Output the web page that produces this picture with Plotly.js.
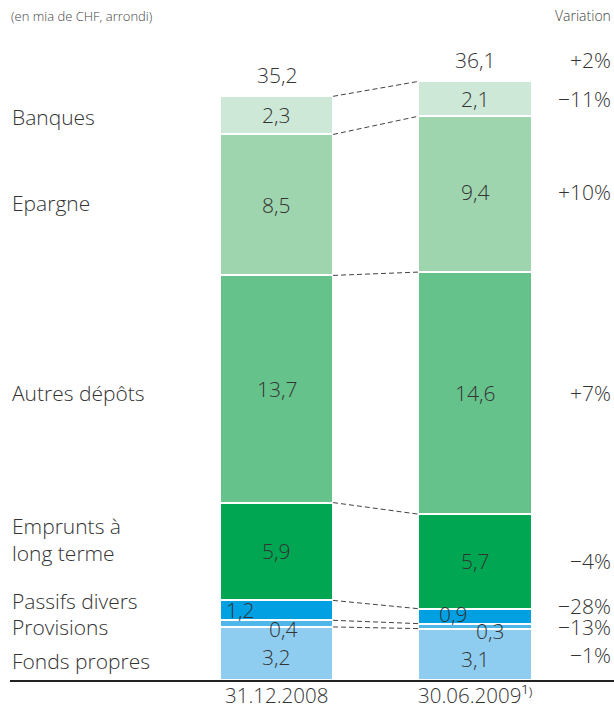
<!DOCTYPE html>
<html>
<head>
<meta charset="utf-8">
<script src="https://cdn.plot.ly/plotly-3.0.1.min.js"></script>
<style>html,body{margin:0;padding:0;background:#fff;}#chart{width:614px;height:709px;}</style>
</head>
<body>
<div id="chart"></div>
<script>
// ---- data ----
var periods = ["31.12.2008", "30.06.2009¹⁾"];
var segments = ["Fonds propres", "Provisions", "Passifs divers", "Emprunts à<br>long terme", "Autres dépôts", "Epargne", "Banques"];
var values2008 = [3.2, 0.4, 1.2, 5.9, 13.7, 8.5, 2.3];
var values2009 = [3.1, 0.3, 0.9, 5.7, 14.6, 9.4, 2.1];
var totals = [35.2, 36.1];
var variations = ["−1%", "−13%", "−28%", "−4%", "+7%", "+10%", "−11%"];
var totalVariation = "+2%";

// ---- styles ----
var colors = ["#8fcdf0", "#4fb6ea", "#00a0e3", "#00a651", "#66c28b", "#9ed5ae", "#cde8d6"];
var txt = "#333333";
var FONT = "Open Sans, Lato, sans-serif";
var FS = 21;
var barW = 0.57;
// label offsets (pixels) for crowded small segments
var leftShift = [-8, -3, 9, 12, -4, 2, -2];
var valShift1 = [{x:0,y:-4},{x:7,y:-5},{x:-36,y:0},{x:0,y:0},{x:0,y:0},{x:0,y:0},{x:0,y:0}];
var valShift2 = [{x:0,y:-5},{x:15,y:-5},{x:-22,y:2},{x:0,y:0},{x:0,y:0},{x:0,y:2},{x:0,y:0}];
var varShift = [-1, -1, 10, 0, 0, 2, 0];

function fmt(v){ return v.toFixed(1).replace('.', ','); }

var xs = [0, 1];
var traces = [];
segments.forEach(function(name, i){
  traces.push({
    type: 'bar', x: xs, y: [values2008[i], values2009[i]], width: barW,
    marker: {color: colors[i], line: {color: '#ffffff', width: 2}},
    hoverinfo: 'skip', showlegend: false
  });
});

// cumulative tops
var cum1 = [], cum2 = [], s1 = 0, s2 = 0;
for (var i = 0; i < segments.length; i++) {
  s1 += values2008[i]; s2 += values2009[i];
  cum1.push(s1); cum2.push(s2);
}
// dashed connectors between bar edges
for (var i = 0; i < segments.length; i++) {
  traces.push({
    type: 'scatter', mode: 'lines',
    x: [0 + barW/2, 1 - barW/2], y: [cum1[i], cum2[i]],
    line: {color: '#444444', width: 1, dash: '5px,3px'},
    hoverinfo: 'skip', showlegend: false
  });
}

var F = {family: FONT, size: FS, color: txt, weight: 300};
var ann = [];
for (var i = 0; i < segments.length; i++) {
  var m1 = cum1[i] - values2008[i]/2, m2 = cum2[i] - values2009[i]/2;
  ann.push({xref:'paper', x:0, xanchor:'left', yref:'y', y:m1, yshift:leftShift[i],
    text: segments[i], showarrow:false, align:'left', font:F});
  ann.push({xref:'x', x:0, yref:'y', y:m1, xshift:valShift1[i].x, yshift:valShift1[i].y,
    text: fmt(values2008[i]), showarrow:false, font:F});
  ann.push({xref:'x', x:1, yref:'y', y:m2, xshift:valShift2[i].x, yshift:valShift2[i].y,
    text: fmt(values2009[i]), showarrow:false, font:F});
  ann.push({xref:'paper', x:1, xanchor:'right', xshift:-1, yref:'y', y:m2, yshift:varShift[i],
    text: variations[i], showarrow:false, font:F});
}
// totals
ann.push({xref:'x', x:0, yref:'y', y:totals[0], yanchor:'bottom', yshift:5, text: fmt(totals[0]), showarrow:false, font:F});
ann.push({xref:'x', x:1, yref:'y', y:totals[1], yanchor:'bottom', yshift:5, text: fmt(totals[1]), showarrow:false, font:F});
ann.push({xref:'paper', x:1, xanchor:'right', xshift:-1, yref:'y', y:totals[1], yanchor:'bottom', yshift:5, text: totalVariation, showarrow:false, font:F});
// period labels under the axis
var P = {family: FONT, size: 20.5, color: txt, weight: 300};
periods.forEach(function(p, k){
  ann.push({xref:'x', x:xs[k], yref:'paper', y:0, yanchor:'top', yshift:1, text:p, showarrow:false, font:P});
});
// headers
var H = {family: FONT, size: 13, color: '#444', weight: 300};
ann.push({xref:'paper', x:0, xanchor:'left', xshift:-1, yref:'paper', y:1, yanchor:'bottom', yshift:3, text:'(en mia de CHF, arrondi)', showarrow:false, font:H});
ann.push({xref:'paper', x:1, xanchor:'right', xshift:-1, yref:'paper', y:1, yanchor:'bottom', yshift:3, text:'Variation', showarrow:false, font:{family: FONT, size: 14, color: '#444', weight: 300}});

var layout = {
  width: 614, height: 709,
  margin: {l: 10, r: 0, t: 30, b: 29},
  paper_bgcolor: '#ffffff', plot_bgcolor: '#ffffff',
  barmode: 'stack', showlegend: false,
  xaxis: {range: [-1.3426, 1.7002], showticklabels: false, ticks: '', showgrid: false, zeroline: false,
    showline: true, linecolor: '#222222', linewidth: 1.5, fixedrange: true},
  yaxis: {range: [0, 39.2], visible: false, showgrid: false, zeroline: false, fixedrange: true},
  annotations: ann
};

Plotly.newPlot('chart', traces, layout, {staticPlot: true, displayModeBar: false});
</script>
</body>
</html>
